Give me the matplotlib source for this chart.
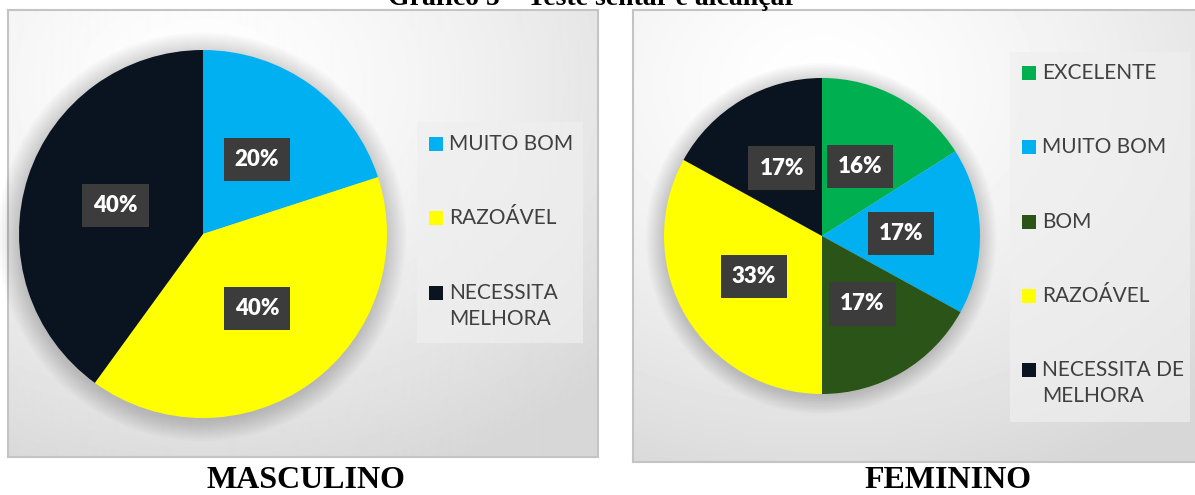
import numpy as np
import matplotlib
matplotlib.use("Agg")
import matplotlib.pyplot as plt
from matplotlib.patches import Rectangle

# data
masc_labels = ["MUITO BOM", "RAZOÁVEL", "NECESSITA\nMELHORA"]
masc_values = [20, 40, 40]
masc_colors = ["#00B0F0", "#FFFF00", "#091420"]

fem_labels = ["EXCELENTE", "MUITO BOM", "BOM", "RAZOÁVEL", "NECESSITA DE\nMELHORA"]
fem_values = [16, 17, 17, 33, 17]
fem_colors = ["#00B050", "#00B0F0", "#2A5418", "#FFFF00", "#091420"]

title = "Gráfico 5 – Teste sentar e alcançar"
captions = ["MASCULINO", "FEMININO"]

W, H = 1195, 495
fig = plt.figure(figsize=(W / 100, H / 100), dpi=100)
fig.patch.set_facecolor("white")


def px_axes(x0, y0, x1, y1, **kw):
    # pixel box (top-left origin) -> figure axes
    return fig.add_axes([x0 / W, 1 - y1 / H, (x1 - x0) / W, (y1 - y0) / H], **kw)


def panel(x0, y0, x1, y1, cx, cy):
    ax = px_axes(x0, y0, x1, y1)
    w, h = x1 - x0, y1 - y0
    xx, yy = np.meshgrid(np.arange(w), np.arange(h))
    d = np.hypot((xx - (cx - x0)) / w, (yy - (cy - y0 - 150)) / h)
    img = 1.0 - 0.16 * np.clip(d / 0.95, 0, 1) ** 1.4
    ax.imshow(img, cmap="gray", vmin=0, vmax=1, aspect="auto", interpolation="bilinear")
    ax.set_xticks([])
    ax.set_yticks([])
    for s in ax.spines.values():
        s.set_color("#c4c4c4")
        s.set_linewidth(1.5)
    return ax


def pie(cx, cy, r, values, colors):
    m = 24
    ax = px_axes(cx - r - m, cy - r - m, cx + r + m, cy + r + m)
    ax.axis("off")
    # soft shadow
    for k in range(12):
        ax.add_patch(plt.Circle((-0.005, -0.015), 1 + 0.01 * k, color="black", alpha=0.014, lw=0))
    wedges, _ = ax.pie(values, colors=colors, startangle=90, counterclock=False,
                       radius=1, wedgeprops=dict(linewidth=0))
    ax.set_xlim(-1 - m / r, 1 + m / r)
    ax.set_ylim(-1 - m / r, 1 + m / r)
    for wdg, v in zip(wedges, values):
        ang = np.deg2rad((wdg.theta1 + wdg.theta2) / 2)
        ax.text(0.5 * np.cos(ang), 0.5 * np.sin(ang), f"{v}%", ha="center", va="center",
                color="white", fontsize=16, fontweight="heavy", family="Lato",
                bbox=dict(boxstyle="square,pad=0.5", fc="#3c3c3c", ec="none"))
    return ax


def legend(x0, y0, x1, y1, labels, colors, ys):
    ax = px_axes(x0, y0, x1, y1)
    ax.set_xlim(x0, x1)
    ax.set_ylim(y1, y0)
    ax.axis("off")
    ax.add_patch(Rectangle((x0, y0), x1 - x0, y1 - y0, fc="#efefef", ec="none", alpha=0.7))
    for lab, c, y in zip(labels, colors, ys):
        ax.add_patch(Rectangle((x0 + 12, y - 7), 14, 14, fc=c, ec="none"))
        ax.text(x0 + 32, y - 10, lab, ha="left", va="top", fontsize=15, color="#404040",
                family="Lato", linespacing=1.4)


panel(8, 10, 598, 457, 203, 234)
panel(633, 10, 1205, 462, 822, 236)

pie(203, 234, 184, masc_values, masc_colors)
pie(822, 236, 158, fem_values, fem_colors)

legend(417, 122, 583, 343, masc_labels, masc_colors, [144, 218, 293])
legend(1010, 52, 1190, 422, fem_labels, fem_colors, [73, 147, 222, 296, 370])

fig.text(592 / W, 1 - 5 / H, title, ha="center", va="baseline", fontsize=20,
         fontweight="bold", family="Liberation Serif")
fig.text(306 / W, 1 - 480 / H, captions[0], ha="center", va="center", fontsize=23,
         fontweight="bold", family="Liberation Serif")
fig.text(948 / W, 1 - 480 / H, captions[1], ha="center", va="center", fontsize=23,
         fontweight="bold", family="Liberation Serif")

fig.savefig("out.png", dpi=100)
plt.close(fig)
